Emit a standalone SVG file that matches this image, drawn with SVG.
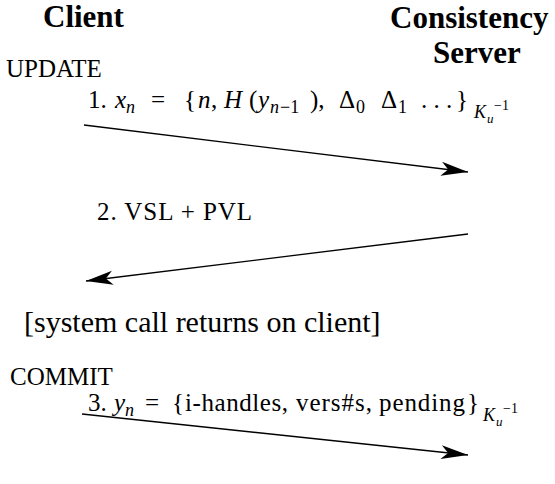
<svg xmlns="http://www.w3.org/2000/svg" width="555" height="484" viewBox="0 0 555 484">
<defs>
<marker id="ah" markerUnits="userSpaceOnUse" markerWidth="40" markerHeight="20" viewBox="-30 -10 32 20" refX="0" refY="0" orient="auto" overflow="visible">
<path d="M0,0 L-27,-7 L-20,0 L-27,7 Z" fill="#000"/>
</marker>
</defs>
<rect width="555" height="484" fill="#fff"/>
<g id="client"><text x="43" y="27" font-family="serif" font-weight="bold" font-size="31">Client</text></g>
<g id="server"><text x="390" y="28" font-family="serif" font-weight="bold" font-size="31">Consistency</text><text x="433" y="63" font-family="serif" font-weight="bold" font-size="31">Server</text></g>
<g id="update"><text x="6" y="77" font-family="serif" font-size="25">UPDATE</text></g>
<g id="msg1">
<text y="108" font-family="serif" font-size="25"><tspan x="88">1.</tspan><tspan font-style="italic" x="115">x</tspan><tspan font-style="italic" x="126" y="113" font-size="18">n</tspan><tspan x="151" y="108">=</tspan><tspan x="184">{</tspan><tspan font-style="italic" x="198">n</tspan><tspan x="211">,</tspan><tspan font-style="italic" x="224">H</tspan><tspan x="249">(</tspan><tspan font-style="italic" x="258">y</tspan><tspan font-style="italic" x="270" y="113" font-size="18">n</tspan><tspan x="280" y="113" font-size="18">−1</tspan><tspan x="310" y="108">),</tspan><tspan x="339">Δ</tspan><tspan x="356" y="113" font-size="18">0</tspan><tspan x="381" y="108">Δ</tspan><tspan x="398" y="113" font-size="18">1</tspan><tspan x="421" y="108">. . .</tspan><tspan x="456">}</tspan><tspan font-style="italic" x="474" y="118" font-size="18">K</tspan><tspan font-style="italic" x="487" y="123" font-size="13">u</tspan><tspan x="494" y="110" font-size="14">−1</tspan></text>
</g>
<g id="msg2"><text x="97" y="220" font-family="serif" font-size="25" textLength="155" lengthAdjust="spacing">2. VSL + PVL</text></g>
<g id="sysret"><text x="24" y="332" font-family="serif" font-size="30">[system call returns on client]</text></g>
<g id="commit"><text x="10" y="385" font-family="serif" font-size="25">COMMIT</text></g>
<g id="msg3">
<text y="411" font-family="serif" font-size="25"><tspan x="88">3.</tspan><tspan font-style="italic" x="114">y</tspan><tspan font-style="italic" x="125" y="416" font-size="18">n</tspan><tspan x="145" y="411">=</tspan><tspan x="172">{</tspan><tspan x="185" textLength="103" lengthAdjust="spacing">i-handles,</tspan><tspan x="296" textLength="76" lengthAdjust="spacing">vers#s,</tspan><tspan x="379" textLength="86" lengthAdjust="spacing">pending</tspan><tspan x="467">}</tspan><tspan font-style="italic" x="483" y="421" font-size="18">K</tspan><tspan font-style="italic" x="496" y="426" font-size="13">u</tspan><tspan x="503" y="413" font-size="14">−1</tspan></text>
</g>
<g id="connectors" stroke="#000" stroke-width="1.3" fill="none">
<line x1="84" y1="125" x2="468" y2="172" marker-end="url(#ah)"/>
<line x1="468" y1="234" x2="86" y2="281" marker-end="url(#ah)"/>
<line x1="82" y1="414" x2="468" y2="455" marker-end="url(#ah)"/>
</g>
</svg>
